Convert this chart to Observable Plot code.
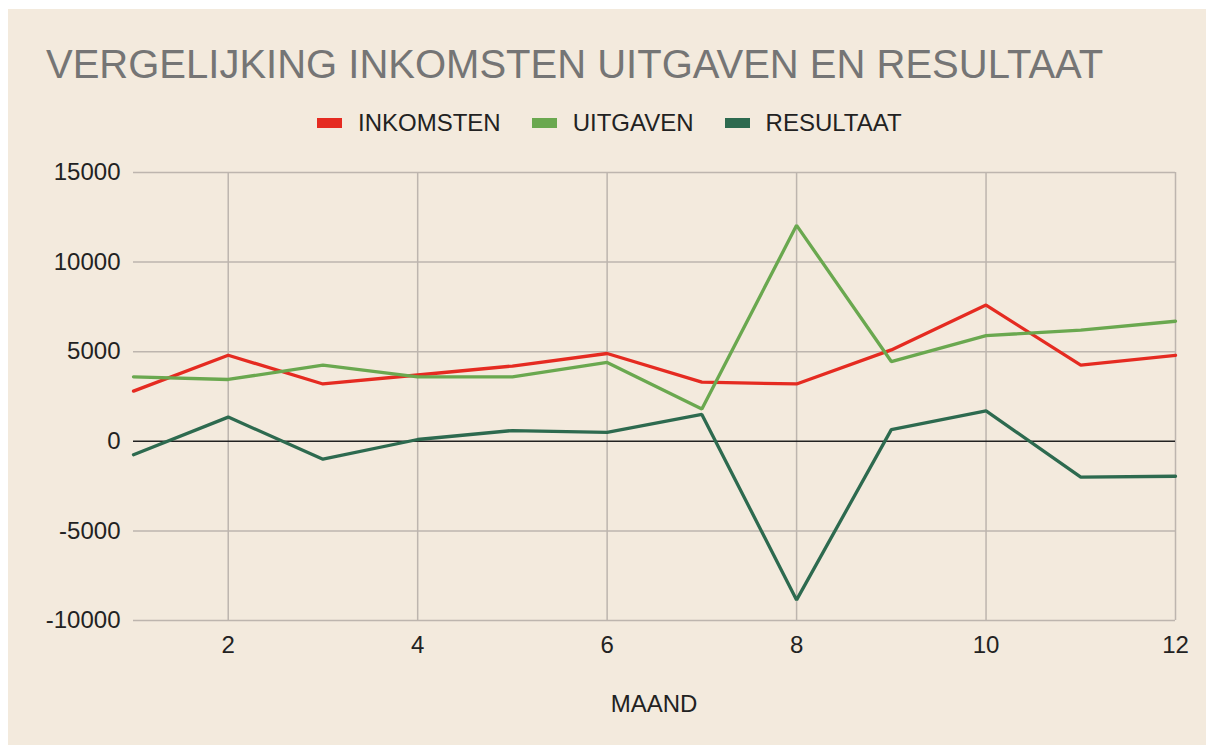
<!DOCTYPE html>
<html>
<head>
<meta charset="utf-8">
<script src="https://cdn.jsdelivr.net/npm/d3@7"></script>
<script src="https://cdn.jsdelivr.net/npm/@observablehq/plot@0.6"></script>
<style>
  html, body { margin: 0; padding: 0; background: #ffffff; }
  #panel { position: absolute; left: 8px; top: 9px; width: 1198px; height: 736px; background: #f3eadd; font-family: "Liberation Sans", Arial, sans-serif; }
  #title { position: absolute; left: 38px; top: 35px; font-size: 40px; line-height: 40px; color: #757575; white-space: nowrap; }
  #legend { position: absolute; left: 309px; top: 102px; display: flex; align-items: center; font-size: 24px; line-height: 24px; color: #222; white-space: nowrap; }
  .item { display: flex; align-items: center; margin-right: 31px; }
  .item:last-child { margin-right: 0; }
  .swatch { width: 25px; height: 10px; margin-right: 16px; }
  #chart { position: absolute; left: 0; top: 141px; }
  #xlabel { position: absolute; left: 125px; width: 1042px; top: 683px; text-align: center; font-size: 24px; line-height: 24px; color: #222; }
</style>
</head>
<body>
<div id="panel">
  <div id="title">VERGELIJKING INKOMSTEN UITGAVEN EN RESULTAAT</div>
  <div id="legend"></div>
  <div id="chart"></div>
  <div id="xlabel">MAAND</div>
</div>
<script>
const maanden = [1, 2, 3, 4, 5, 6, 7, 8, 9, 10, 11, 12];
const inkomsten = [2800, 4800, 3200, 3700, 4200, 4900, 3300, 3200, 5100, 7600, 4250, 4800];
const uitgaven = [3600, 3450, 4250, 3600, 3600, 4400, 1800, 12050, 4450, 5900, 6200, 6700];
const resultaat = [-750, 1350, -1000, 100, 600, 500, 1500, -8850, 650, 1700, -2000, -1950];
const reeksen = ["INKOMSTEN", "UITGAVEN", "RESULTAAT"];
const kleuren = ["#e52b21", "#6aa84f", "#2d6a4f"];
const yTicks = [-10000, -5000, 0, 5000, 10000, 15000];
const xTicks = [2, 4, 6, 8, 10, 12];

const waarden = [inkomsten, uitgaven, resultaat];
const data = [];
reeksen.forEach((r, i) => {
  maanden.forEach((m, j) => data.push({maand: m, waarde: waarden[i][j], reeks: r}));
});

// legend
const legend = document.getElementById("legend");
reeksen.forEach((r, i) => {
  const it = document.createElement("div");
  it.className = "item";
  const sw = document.createElement("div");
  sw.className = "swatch";
  sw.style.background = kleuren[i];
  const tx = document.createElement("span");
  tx.textContent = r;
  it.appendChild(sw);
  it.appendChild(tx);
  legend.appendChild(it);
});

const gridColor = "#bdb5ae";
const chart = Plot.plot({
  width: 1198,
  height: 595,
  marginLeft: 125,
  marginRight: 31,
  marginTop: 22,
  marginBottom: 125,
  style: {background: "transparent", fontFamily: "'Liberation Sans', Arial, sans-serif", fontSize: "24px", color: "#222", overflow: "visible"},
  x: {domain: [1, 12]},
  y: {domain: [-10000, 15000]},
  color: {domain: reeksen, range: kleuren},
  marks: [
    Plot.gridX(xTicks, {stroke: gridColor, strokeOpacity: 1, strokeWidth: 1.5}),
    Plot.gridY(yTicks.filter(d => d !== 0), {stroke: gridColor, strokeOpacity: 1, strokeWidth: 1.5}),
    Plot.ruleY([0], {stroke: "#222", strokeWidth: 1.5}),
    Plot.axisX(xTicks, {tickSize: 0, tickPadding: 15, label: null, fontSize: 24, fill: "#222"}),
    Plot.axisY(yTicks, {tickSize: 0, tickPadding: 13, label: null, fontSize: 24, fill: "#222", tickFormat: d => String(d)}),
    Plot.line(data, {x: "maand", y: "waarde", z: "reeks", stroke: "reeks", strokeWidth: 3.3, strokeLinejoin: "miter"})
  ]
});
document.getElementById("chart").appendChild(chart);
</script>
</body>
</html>
